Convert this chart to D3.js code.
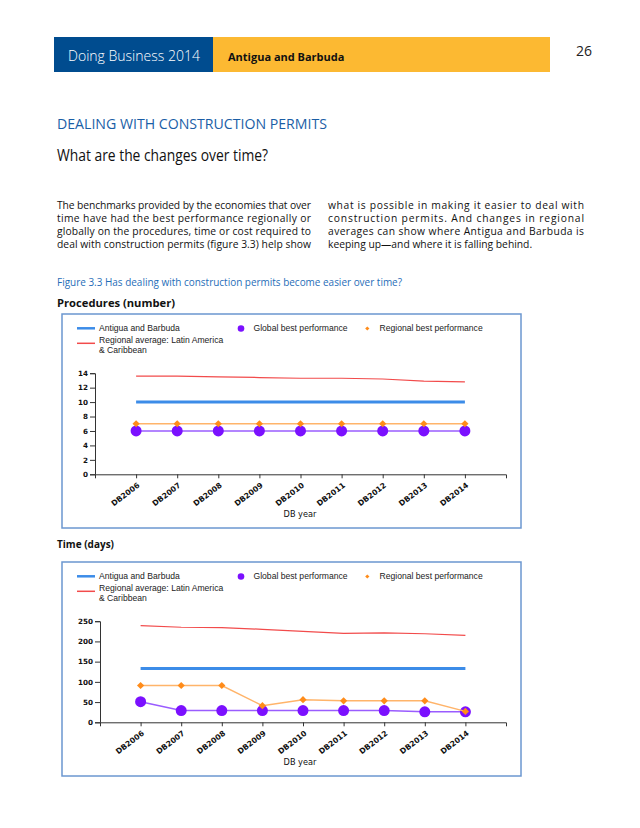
<!DOCTYPE html>
<html>
<head>
<meta charset="utf-8">
<script src="https://cdn.jsdelivr.net/npm/d3@7"></script>
<style>
  body { margin: 0; background: #fff; }
  svg { display: block; }
</style>
</head>
<body>
<svg id="page"></svg>
<script>
// values
const years = ['DB2006', 'DB2007', 'DB2008', 'DB2009', 'DB2010', 'DB2011', 'DB2012', 'DB2013', 'DB2014']

const procAntigua = [10, 10, 10, 10, 10, 10, 10, 10, 10]
const procRegionalAvg = [13.6, 13.6, 13.5, 13.4, 13.3, 13.3, 13.2, 12.9, 12.8]
const procGlobalBest = [6, 6, 6, 6, 6, 6, 6, 6, 6]
const procRegionalBest = [7, 7, 7, 7, 7, 7, 7, 7, 7]
const procTicks = [0, 2, 4, 6, 8, 10, 12, 14]

const timeAntigua = [133, 133, 133, 133, 133, 133, 133, 133, 133]
const timeRegionalAvg = [239, 235, 234, 230, 225, 220, 221, 219, 215]
const timeGlobalBest = [51, 29, 29, 29, 29, 29, 29, 26, 26]
const timeRegionalBest = [91, 91, 91, 41, 56, 53, 53, 53, 27]
const timeTicks = [0, 50, 100, 150, 200, 250]

const paraLeft = [
    'The benchmarks provided by the economies that over',
    'time have had the best performance regionally or',
    'globally on the procedures, time or cost required to',
    'deal with construction permits (figure 3.3) help show'
]
const paraRight = [
    'what is possible in making it easier to deal with',
    'construction permits. And changes in regional',
    'averages can show where Antigua and Barbuda is',
    'keeping up\u2014and where it is falling behind.'
]

const width = 640
const height = 828
const bodyFont = '"Open Sans", "Noto Sans", sans-serif'
const chartFont = '"Liberation Sans", Arial, sans-serif'
const axisFont = '"DejaVu Sans", Verdana, sans-serif'

const col = {
    antigua: '#3c8ce8',
    regAvg: '#f24b4b',
    globalDot: '#7b10ff',
    globalLine: '#9a5cff',
    regBestDot: '#ff8c1a',
    regBestLine: '#ffb46a'
}

const svg = d3.select('#page')
    .attr('width', width)
    .attr('height', height)

svg.append('rect').attr('width', width).attr('height', height).attr('fill', '#fff')

// header band
svg.append('rect').attr('x', 54).attr('y', 37).attr('width', 159).attr('height', 35).attr('fill', '#004c8f')
svg.append('rect').attr('x', 213).attr('y', 37).attr('width', 337).attr('height', 35).attr('fill', '#fcb932')
svg.append('text').attr('x', 68).attr('y', 60.5)
    .attr('font-family', bodyFont).attr('font-size', 15).attr('font-weight', 300).attr('fill', '#fff')
    .attr('textLength', 132).attr('lengthAdjust', 'spacingAndGlyphs')
    .text('Doing Business 2014')
svg.append('text').attr('x', 228).attr('y', 61)
    .attr('font-family', bodyFont).attr('font-size', 11).attr('font-weight', 'bold').attr('fill', '#111')
    .text('Antigua and Barbuda')
svg.append('text').attr('x', 576).attr('y', 56)
    .attr('font-family', bodyFont).attr('font-size', 14).attr('fill', '#222')
    .text('26')

// headings
svg.append('text').attr('x', 57).attr('y', 128.5)
    .attr('font-family', bodyFont).attr('font-size', 14).attr('fill', '#1a5ea6')
    .attr('textLength', 270).attr('lengthAdjust', 'spacingAndGlyphs')
    .text('DEALING WITH CONSTRUCTION PERMITS')
svg.append('text').attr('x', 57).attr('y', 160.5)
    .attr('font-family', bodyFont).attr('font-size', 16).attr('fill', '#111')
    .attr('textLength', 211).attr('lengthAdjust', 'spacingAndGlyphs')
    .text('What are the changes over time?')

// two column paragraph, justified lines
const paraTop = 208.5
const paraStep = 13
const drawColumn = (lines, x, w, justifyLast) => {
    lines.forEach((line, i) => {
        const t = svg.append('text')
            .attr('x', x).attr('y', paraTop + i * paraStep)
            .attr('font-family', bodyFont).attr('font-size', 10.3).attr('fill', '#111')
            .text(line)
        if (i < lines.length - 1 || justifyLast) {
            t.attr('textLength', w).attr('lengthAdjust', 'spacing')
        }
    })
}
drawColumn(paraLeft, 57, 254, true)
drawColumn(paraRight, 328, 256, false)

svg.append('text').attr('x', 57).attr('y', 286)
    .attr('font-family', bodyFont).attr('font-size', 10).attr('fill', '#1f6db8')
    .attr('textLength', 345).attr('lengthAdjust', 'spacingAndGlyphs')
    .text('Figure 3.3 Has dealing with construction permits become easier over time?')
svg.append('text').attr('x', 57).attr('y', 306.5)
    .attr('font-family', bodyFont).attr('font-size', 10).attr('font-weight', 'bold').attr('fill', '#111')
    .attr('textLength', 118).attr('lengthAdjust', 'spacingAndGlyphs')
    .text('Procedures (number)')
svg.append('text').attr('x', 57).attr('y', 547.5)
    .attr('font-family', bodyFont).attr('font-size', 10).attr('font-weight', 'bold').attr('fill', '#111')
    .attr('textLength', 57).attr('lengthAdjust', 'spacingAndGlyphs')
    .text('Time (days)')

const diamond = d3.symbol(d3.symbolSquare, 26)()

const drawChart = (top, axisX, yMax, yTicks, series) => {
    const box = { left: 62, right: 521, height: 214 }
    const g = svg.append('g').attr('transform', `translate(0, ${top})`)

    g.append('rect')
        .attr('x', box.left).attr('y', 0)
        .attr('width', box.right - box.left).attr('height', box.height)
        .attr('fill', '#fff').attr('stroke', '#6b97d0').attr('stroke-width', 1.5)

    // legend
    const lg = g.append('g').attr('font-family', chartFont).attr('font-size', 8.6).attr('fill', '#222')
    lg.append('line').attr('x1', 77).attr('x2', 95).attr('y1', 14.3).attr('y2', 14.3)
        .attr('stroke', col.antigua).attr('stroke-width', 2.5)
    lg.append('text').attr('x', 99).attr('y', 17).text('Antigua and Barbuda')
    lg.append('line').attr('x1', 77).attr('x2', 95).attr('y1', 29.3).attr('y2', 29.3)
        .attr('stroke', col.regAvg).attr('stroke-width', 1.5)
    lg.append('text').attr('x', 99).attr('y', 29).text('Regional average: Latin America')
    lg.append('text').attr('x', 99).attr('y', 38.5).text('& Caribbean')
    lg.append('circle').attr('cx', 241).attr('cy', 14.5).attr('r', 3.3).attr('fill', col.globalDot)
    lg.append('path').attr('d', d3.symbol(d3.symbolSquare, 9)())
        .attr('transform', 'translate(367.3, 14.5) rotate(45)')
        .attr('fill', col.regBestDot)
    lg.append('text').attr('x', 253.5).attr('y', 17).text('Global best performance')
    lg.append('text').attr('x', 379.5).attr('y', 17).text('Regional best performance')

    const x = d3.scalePoint()
        .domain(years)
        .range([axisX, 506])
        .padding(1)

    const y = d3.scaleLinear()
        .domain([0, yMax])
        .range([160.3, 59.2])

    const xAxis = d3.axisBottom(x).tickSize(4).tickSizeOuter(4)
    const yAxis = d3.axisLeft(y).tickValues(yTicks).tickSize(5).tickSizeOuter(5)

    const xAxisG = g.append('g')
        .attr('transform', `translate(0, ${y(0)})`)
        .call(xAxis)
    xAxisG.selectAll('text')
        .attr('font-family', axisFont).attr('font-size', 7.6).attr('font-weight', 'bold').attr('fill', '#111')
        .attr('text-anchor', 'end')
        .attr('transform', 'translate(2, 10) rotate(-37)')
        .attr('dy', '0.35em').attr('y', 0).attr('x', 0)

    const yAxisG = g.append('g')
        .attr('transform', `translate(${axisX}, 0)`)
        .call(yAxis)
    yAxisG.selectAll('text')
        .attr('font-family', axisFont).attr('font-size', 7.2).attr('font-weight', 'bold').attr('fill', '#111')
        .attr('x', -7)

    g.selectAll('.domain, .tick line').attr('stroke', '#333')

    g.append('text')
        .attr('x', 300).attr('y', 203)
        .attr('text-anchor', 'middle')
        .attr('font-family', axisFont).attr('font-size', 8.2).attr('fill', '#111')
        .text('DB year')

    const line = d3.line()
        .x((d, i) => x(years[i]))
        .y(d => y(d))

    g.append('path').datum(series.antigua).attr('d', line)
        .attr('fill', 'none').attr('stroke', col.antigua).attr('stroke-width', 3)
    g.append('path').datum(series.regAvg).attr('d', line)
        .attr('fill', 'none').attr('stroke', col.regAvg).attr('stroke-width', 1.2)

    g.append('path').datum(series.globalBest).attr('d', line)
        .attr('fill', 'none').attr('stroke', col.globalLine).attr('stroke-width', 1.5)
    g.selectAll('.global-dot')
        .data(series.globalBest)
        .enter()
        .append('circle')
            .attr('class', 'global-dot')
            .attr('cx', (d, i) => x(years[i]))
            .attr('cy', d => y(d))
            .attr('r', 5.5)
            .attr('fill', col.globalDot)

    g.append('path').datum(series.regBest).attr('d', line)
        .attr('fill', 'none').attr('stroke', col.regBestLine).attr('stroke-width', 1.5)
    g.selectAll('.regbest-dot')
        .data(series.regBest)
        .enter()
        .append('path')
            .attr('class', 'regbest-dot')
            .attr('d', diamond)
            .attr('transform', (d, i) => `translate(${x(years[i])}, ${y(d)}) rotate(45)`)
            .attr('fill', col.regBestDot)
}

drawChart(314, 95, 14, procTicks, {
    antigua: procAntigua,
    regAvg: procRegionalAvg,
    globalBest: procGlobalBest,
    regBest: procRegionalBest
})

drawChart(562, 100, 250, timeTicks, {
    antigua: timeAntigua,
    regAvg: timeRegionalAvg,
    globalBest: timeGlobalBest,
    regBest: timeRegionalBest
})
</script>
</body>
</html>
